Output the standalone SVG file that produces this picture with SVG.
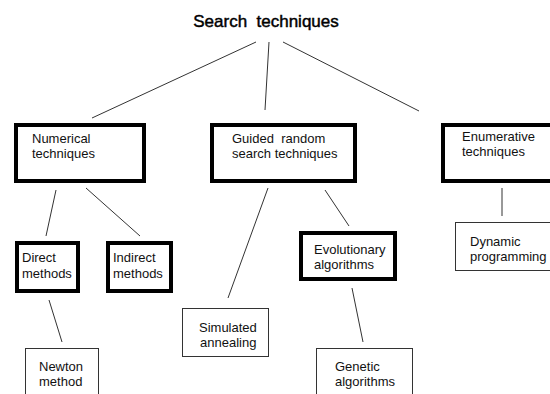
<svg xmlns="http://www.w3.org/2000/svg" width="550" height="394" viewBox="0 0 550 394">
  <style>
    .bold { fill: #fff; stroke: #000; stroke-width: 4; }
    .thin { fill: #fff; stroke: #333; stroke-width: 1; }
    .lbl { font-family: "Liberation Sans", Arial, sans-serif; font-size: 13px; fill: #111; }
    .title { font-family: "Liberation Sans", Arial, sans-serif; font-size: 17px; fill: #000; stroke: #000; stroke-width: 0.45; }
    .link { stroke: #333; stroke-width: 1; fill: none; }
  </style>
  <rect width="550" height="394" fill="#fff"/>

  <g id="connectors">
    <line class="link" x1="256" y1="42" x2="92" y2="118"/>
    <line class="link" x1="269" y1="42" x2="265" y2="110"/>
    <line class="link" x1="283" y1="42" x2="419" y2="111"/>
    <line class="link" x1="56" y1="190" x2="46" y2="236"/>
    <line class="link" x1="86" y1="188" x2="140" y2="236"/>
    <line class="link" x1="268" y1="188" x2="228" y2="298"/>
    <line class="link" x1="325" y1="190" x2="349" y2="226"/>
    <line class="link" x1="502" y1="188" x2="502" y2="216"/>
    <line class="link" x1="49" y1="300" x2="62" y2="342"/>
    <line class="link" x1="352" y1="288" x2="363" y2="342"/>
  </g>

  <g id="root">
    <text class="title" x="266" y="27" text-anchor="middle" xml:space="preserve">Search  techniques</text>
  </g>

  <g id="numerical">
    <rect class="bold" x="16" y="125" width="128" height="56"/>
    <text class="lbl" x="32" y="143">Numerical</text>
    <text class="lbl" x="32" y="158">techniques</text>
  </g>

  <g id="guided">
    <rect class="bold" x="212" y="125" width="143" height="56"/>
    <text class="lbl" x="232" y="143" xml:space="preserve">Guided  random</text>
    <text class="lbl" x="232" y="158">search techniques</text>
  </g>

  <g id="enumerative">
    <rect class="bold" x="443" y="125" width="120" height="56"/>
    <text class="lbl" x="462" y="141">Enumerative</text>
    <text class="lbl" x="462" y="156">techniques</text>
  </g>

  <g id="direct">
    <rect class="bold" x="17" y="243" width="61" height="48"/>
    <text class="lbl" x="22" y="262">Direct</text>
    <text class="lbl" x="22" y="278">methods</text>
  </g>

  <g id="indirect">
    <rect class="bold" x="108" y="243" width="63" height="48"/>
    <text class="lbl" x="113" y="262">Indirect</text>
    <text class="lbl" x="113" y="278">methods</text>
  </g>

  <g id="evolutionary">
    <rect class="bold" x="301" y="233" width="94" height="46"/>
    <text class="lbl" x="314" y="254">Evolutionary</text>
    <text class="lbl" x="314" y="269">algorithms</text>
  </g>

  <g id="dynamic">
    <rect class="thin" x="455.5" y="222.5" width="100" height="48"/>
    <text class="lbl" x="470" y="246">Dynamic</text>
    <text class="lbl" x="470" y="261">programming</text>
  </g>

  <g id="simulated">
    <rect class="thin" x="182.5" y="308.5" width="86" height="48"/>
    <text class="lbl" x="199" y="332">Simulated</text>
    <text class="lbl" x="200" y="347">annealing</text>
  </g>

  <g id="newton">
    <rect class="thin" x="25.5" y="348.5" width="73" height="60"/>
    <text class="lbl" x="39" y="371">Newton</text>
    <text class="lbl" x="39" y="386">method</text>
  </g>

  <g id="genetic">
    <rect class="thin" x="316.5" y="348.5" width="96" height="60"/>
    <text class="lbl" x="335" y="371">Genetic</text>
    <text class="lbl" x="335" y="386">algorithms</text>
  </g>
</svg>
